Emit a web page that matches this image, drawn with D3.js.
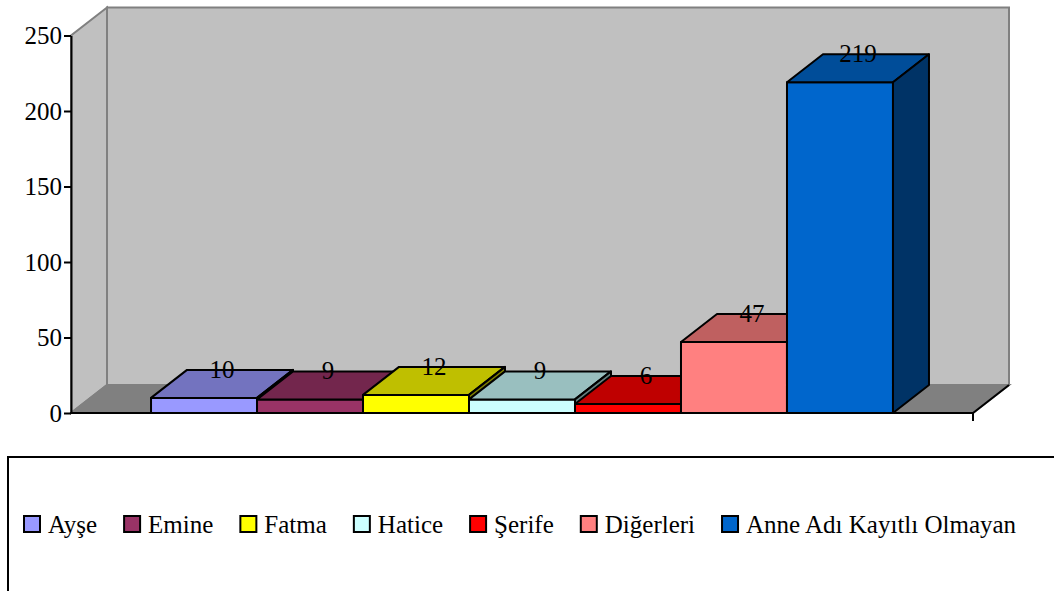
<!DOCTYPE html>
<html>
<head>
<meta charset="utf-8">
<script src="https://cdn.jsdelivr.net/npm/d3@7"></script>
<style>
  body { margin: 0; background: #fff; }
</style>
</head>
<body>
<svg id="chart" width="1054" height="591"></svg>
<script>
// Categories, counts and colours
const names = ["Ayşe", "Emine", "Fatma", "Hatice", "Şerife", "Diğerleri", "Anne Adı Kayıtlı Olmayan"];
const counts = [10, 9, 12, 9, 6, 47, 219];
const frontColors = ["#9999FF", "#993366", "#FFFF00", "#CCFFFF", "#FF0000", "#FF8080", "#0066CC"];
const yTicks = [0, 50, 100, 150, 200, 250];

const serif = '"Liberation Serif"';
const svg = d3.select("#chart");
const fontSize = 25;

// 3D frame: front plane of the floor and the depth offset toward the back wall
const x0 = 71, x1 = 973, yBase = 413, yTopVal = 35.5;
const dx = 36, dy = -28;

const y = d3.scaleLinear().domain([0, 250]).range([yBase, yTopVal]);
const x = d3.scaleBand().domain(names).range([x0, x1]).paddingInner(0).paddingOuter(0.755);

const shade = (c, k) => { const r = d3.rgb(c); return d3.rgb(r.r * k, r.g * k, r.b * k).formatHex(); };
const poly = pts => "M" + pts.map(p => p.join(",")).join("L") + "Z";

const wallGray = "#C0C0C0", floorGray = "#808080", edgeGray = "#808080";

// side wall (left)
svg.append("path")
  .attr("d", poly([[x0, yBase], [x0, y(250)], [x0 + dx, y(250) + dy], [x0 + dx, yBase + dy]]))
  .attr("fill", wallGray).attr("stroke", edgeGray).attr("stroke-width", 2);
// back wall
svg.append("path")
  .attr("d", poly([[x0 + dx, y(250) + dy], [x1 + dx, y(250) + dy], [x1 + dx, yBase + dy], [x0 + dx, yBase + dy]]))
  .attr("fill", wallGray).attr("stroke", edgeGray).attr("stroke-width", 2);
// floor
svg.append("path")
  .attr("d", poly([[x0, yBase], [x1, yBase], [x1 + dx, yBase + dy], [x0 + dx, yBase + dy]]))
  .attr("fill", floorGray).attr("stroke", edgeGray).attr("stroke-width", 2);
// floor right edge
svg.append("line")
  .attr("x1", x1).attr("y1", yBase).attr("x2", x1 + dx).attr("y2", yBase + dy)
  .attr("stroke", "#000").attr("stroke-width", 2);

// columns, drawn left to right so each one hides the side of the previous
const bars = svg.append("g");
names.forEach((n, i) => {
  const bx = x(n), bw = x.bandwidth(), top = y(counts[i]);
  const g = bars.append("g").attr("stroke", "#000").attr("stroke-width", 2).attr("stroke-linejoin", "round");
  g.append("path").attr("d", poly([[bx, yBase], [bx, top], [bx + bw, top], [bx + bw, yBase]]))
    .attr("fill", frontColors[i]);
  g.append("path").attr("d", poly([[bx, top], [bx + dx, top + dy], [bx + bw + dx, top + dy], [bx + bw, top]]))
    .attr("fill", shade(frontColors[i], 0.75));
  g.append("path").attr("d", poly([[bx + bw, yBase], [bx + bw, top], [bx + bw + dx, top + dy], [bx + bw + dx, yBase + dy]]))
    .attr("fill", shade(frontColors[i], 0.5));
});

// value labels
svg.append("g").selectAll("text").data(names).join("text")
  .attr("x", n => x(n) + x.bandwidth() / 2 + dx / 2)
  .attr("y", (n, i) => y(counts[i]) - 20)
  .attr("text-anchor", "middle")
  .style("font-family", serif)
  .style("font-size", fontSize + "px")
  .text((n, i) => counts[i]);

// value axis
const yAxis = svg.append("g").attr("transform", `translate(${x0},0)`)
  .call(d3.axisLeft(y).tickValues(yTicks).tickSize(7).tickSizeOuter(0).tickPadding(2));
yAxis.select(".domain").attr("stroke", "#000").attr("stroke-width", 2);
yAxis.selectAll(".tick line").attr("stroke", "#000").attr("stroke-width", 2);
yAxis.selectAll(".tick text").attr("fill", "#000")
  .style("font-family", serif).style("font-size", fontSize + "px");

// category axis line with end tick
svg.append("line").attr("x1", x0 - 1).attr("x2", x1).attr("y1", yBase).attr("y2", yBase)
  .attr("stroke", "#000").attr("stroke-width", 2);
svg.append("line").attr("x1", x1).attr("x2", x1).attr("y1", yBase).attr("y2", yBase + 8)
  .attr("stroke", "#000").attr("stroke-width", 2);

// legend
svg.append("rect").attr("x", 8).attr("y", 457).attr("width", 1100).attr("height", 200)
  .attr("fill", "#fff").attr("stroke", "#000").attr("stroke-width", 2);
const legend = svg.append("g");
let lx = 24;
const ly = 524;
names.forEach((n, i) => {
  legend.append("rect").attr("x", lx).attr("y", ly - 8).attr("width", 16).attr("height", 16)
    .attr("fill", frontColors[i]).attr("stroke", "#000").attr("stroke-width", 2);
  const t = legend.append("text").attr("x", lx + 24).attr("y", ly + 9)
    .style("font-family", serif).style("font-size", fontSize + "px").text(n);
  lx += 24 + t.node().getComputedTextLength() + 27;
});
</script>
</body>
</html>
